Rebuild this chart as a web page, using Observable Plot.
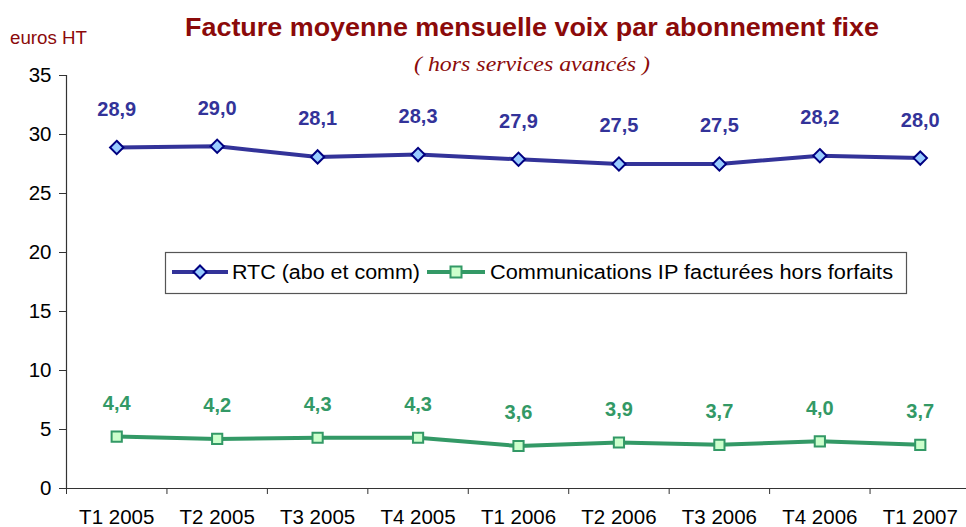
<!DOCTYPE html>
<html>
<head>
<meta charset="utf-8">
<script src="https://cdn.jsdelivr.net/npm/d3@7"></script>
<script src="https://cdn.jsdelivr.net/npm/@observablehq/plot@0.6"></script>
<style>
  html, body { margin: 0; padding: 0; background: #fff; }
  #wrap { position: relative; width: 966px; height: 527px; overflow: hidden; }
  #wrap > svg { position: absolute; left: 0; top: 0; }
</style>
</head>
<body>
<div id="wrap"></div>
<script>
const categories = ["T1 2005", "T2 2005", "T3 2005", "T4 2005", "T1 2006", "T2 2006", "T3 2006", "T4 2006", "T1 2007"];
const rtcValues = [28.9, 29.0, 28.1, 28.3, 27.9, 27.5, 27.5, 28.2, 28.0];
const ipValues = [4.4, 4.2, 4.3, 4.3, 3.6, 3.9, 3.7, 4.0, 3.7];
const yTicks = [0, 5, 10, 15, 20, 25, 30, 35];
const seriesNames = ["RTC (abo et comm)", "Communications IP facturées hors forfaits"];

const BLUE = "#333399", BLUE_FILL = "#99CCFF", BLUE_EDGE = "#000080";
const GREEN = "#339966", GREEN_FILL = "#CCFFCC";
const AXIS = "#333";
const FONT = "'Liberation Sans', Arial, sans-serif";

const rtc = categories.map((c, i) => ({i, cat: c, v: rtcValues[i]}));
const ip = categories.map((c, i) => ({i, cat: c, v: ipValues[i]}));
const boundaries = d3.range(categories.length + 1).map(k => k - 0.5);
const fmt = v => d3.format(".1f")(v).replace(".", ",");

const chart = Plot.plot({
  width: 966,
  height: 527,
  marginLeft: 66,
  marginRight: -4,
  marginTop: 75,
  marginBottom: 39,
  style: {fontFamily: FONT, background: "transparent", overflow: "visible"},
  x: {type: "linear", domain: [-0.5, categories.length - 0.5], axis: null},
  y: {domain: [0, 35], axis: null},
  marks: [
    Plot.axisY({ticks: yTicks, label: null, tickSize: 7, tickPadding: 8, fontSize: 20.5, stroke: AXIS, color: "#000", tickFormat: d => d}),
    Plot.ruleX([-0.5], {stroke: AXIS, strokeWidth: 1.2}),
    Plot.ruleY([0], {stroke: AXIS, strokeWidth: 1.2}),
    Plot.axisX({ticks: boundaries, label: null, tickSize: 6, tickFormat: () => "", stroke: AXIS}),
    Plot.axisX({ticks: d3.range(categories.length), label: null, tickSize: 0, tickPadding: 21, fontSize: 20.5, color: "#000", tickFormat: i => categories[i]}),
    Plot.line(rtc, {x: "i", y: "v", stroke: BLUE, strokeWidth: 4}),
    Plot.dot(rtc, {x: "i", y: "v", symbol: "diamond2", r: 6, fill: BLUE_FILL, stroke: BLUE_EDGE, strokeWidth: 2}),
    Plot.text(rtc, {x: "i", y: "v", text: d => fmt(d.v), dy: -38, fill: BLUE, fontSize: 20, fontWeight: "bold"}),
    Plot.line(ip, {x: "i", y: "v", stroke: GREEN, strokeWidth: 4}),
    Plot.dot(ip, {x: "i", y: "v", symbol: "square2", r: 6.5, fill: GREEN_FILL, stroke: GREEN, strokeWidth: 2}),
    Plot.text(ip, {x: "i", y: "v", text: d => fmt(d.v), dy: -33, fill: GREEN, fontSize: 20, fontWeight: "bold"})
  ]
});
const wrap = document.getElementById("wrap");
wrap.appendChild(chart);

// Overlay: title, subtitle, unit, legend
const ov = d3.select(wrap).append("svg")
  .attr("width", 966).attr("height", 527)
  .style("position", "absolute").style("left", 0).style("top", 0);

ov.append("text").attr("x", 532).attr("y", 36).attr("text-anchor", "middle")
  .attr("font-family", FONT).attr("font-weight", "bold").attr("font-size", 26)
  .attr("fill", "#8B0A0A").attr("textLength", 694).attr("lengthAdjust", "spacingAndGlyphs")
  .text("Facture moyenne mensuelle voix par abonnement fixe");

ov.append("text").attr("x", 532).attr("y", 71).attr("text-anchor", "middle")
  .attr("font-family", "'Liberation Serif', 'Times New Roman', serif").attr("font-style", "italic").attr("font-size", 22)
  .attr("fill", "#8B0A0A").attr("textLength", 236).attr("lengthAdjust", "spacingAndGlyphs")
  .text("( hors services avancés )");

ov.append("text").attr("x", 10).attr("y", 44)
  .attr("font-family", FONT).attr("font-size", 18)
  .attr("fill", "#8B0A0A").attr("textLength", 77).attr("lengthAdjust", "spacingAndGlyphs")
  .text("euros HT");

const lg = ov.append("g");
lg.append("rect").attr("x", 165.5).attr("y", 252.5).attr("width", 741).attr("height", 41)
  .attr("fill", "#fff").attr("stroke", "#555").attr("stroke-width", 1.2);
// RTC entry
lg.append("line").attr("x1", 172).attr("x2", 228).attr("y1", 272).attr("y2", 272).attr("stroke", BLUE).attr("stroke-width", 4);
lg.append("path").attr("d", "M200,265.5L206.5,272L200,278.5L193.5,272Z").attr("fill", BLUE_FILL).attr("stroke", BLUE_EDGE).attr("stroke-width", 2);
lg.append("text").attr("x", 232).attr("y", 279).attr("font-family", FONT).attr("font-size", 20)
  .attr("textLength", 188).attr("lengthAdjust", "spacingAndGlyphs").text(seriesNames[0]);
// IP entry
lg.append("line").attr("x1", 427).attr("x2", 485).attr("y1", 272).attr("y2", 272).attr("stroke", GREEN).attr("stroke-width", 4);
lg.append("rect").attr("x", 450.5).attr("y", 266.5).attr("width", 11).attr("height", 11).attr("fill", GREEN_FILL).attr("stroke", GREEN).attr("stroke-width", 2);
lg.append("text").attr("x", 490).attr("y", 279).attr("font-family", FONT).attr("font-size", 20)
  .attr("textLength", 403).attr("lengthAdjust", "spacingAndGlyphs").text(seriesNames[1]);
</script>
</body>
</html>
